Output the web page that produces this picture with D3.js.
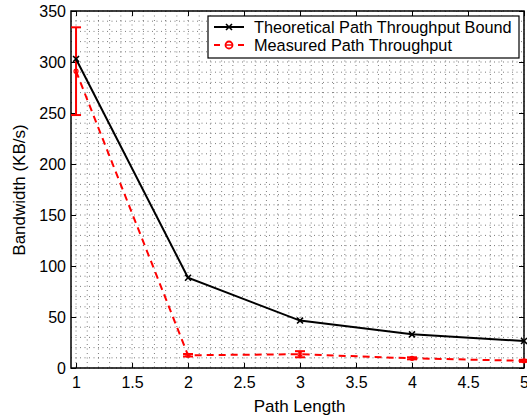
<!DOCTYPE html>
<html><head><meta charset="utf-8">
<script src="https://cdn.jsdelivr.net/npm/d3@7"></script>
<style>body{margin:0;background:#fff}svg{display:block;font-family:"Liberation Sans",Arial,sans-serif}</style>
</head><body><svg id="c" width="527" height="419"></svg>
<script>
const pathLength = [1, 2, 3, 4, 5];
const theoretical = [303, 88.5, 46.5, 33, 26.5];
const measured = [291, 12.5, 13.5, 9.5, 7];
const measuredErr = [43, 1.2, 3, 1, 1];
const xTicks = [1, 1.5, 2, 2.5, 3, 3.5, 4, 4.5, 5];
const yTicks = [0, 50, 100, 150, 200, 250, 300, 350];
const seriesNames = ["Theoretical Path Throughput Bound", "Measured Path Throughput"];

const svg = d3.select("#c");
const L = 71, R = 524, T = 11, B = 368;
const x = d3.scaleLinear().domain([0.955, 5]).range([L, R]);
const y = d3.scaleLinear().domain([0, 350]).range([B, T]);

// grid
const g = svg.append("g");
const xg = d3.range(10, 51).map(d => d / 10);
const yg = d3.range(0, 351, 10);
g.selectAll(".vx").data(xg).join("line")
  .attr("x1", d => x(d)).attr("x2", d => x(d)).attr("y1", T).attr("y2", B)
  .attr("stroke", "#444").attr("stroke-width", 0.7).attr("stroke-dasharray", "1,3.5");
g.selectAll(".hy").data(yg).join("line")
  .attr("x1", L).attr("x2", R).attr("y1", d => y(d)).attr("y2", d => y(d))
  .attr("stroke", "#444").attr("stroke-width", 0.7).attr("stroke-dasharray", "1,3.5");

// axes
const ax = svg.append("g").attr("transform", `translate(0,${B})`)
  .call(d3.axisBottom(x).tickValues(xTicks).tickFormat(d3.format("")).tickSizeInner(-5).tickSizeOuter(0).tickPadding(9));
const ay = svg.append("g").attr("transform", `translate(${L},0)`)
  .call(d3.axisLeft(y).tickValues(yTicks).tickSizeInner(-5).tickSizeOuter(0).tickPadding(5));
const axTop = svg.append("g").attr("transform", `translate(0,${T})`)
  .call(d3.axisTop(x).tickValues(xTicks).tickFormat("").tickSizeInner(-5).tickSizeOuter(0));
const ayR = svg.append("g").attr("transform", `translate(${R},0)`)
  .call(d3.axisRight(y).tickValues(yTicks).tickFormat("").tickSizeInner(-5).tickSizeOuter(0));
[ax, ay, axTop, ayR].forEach(a => {
  a.select(".domain").remove();
  a.selectAll("text").attr("font-size", 16).attr("fill", "#000").attr("font-family", "Liberation Sans, Arial, sans-serif");
  a.selectAll("line").attr("stroke", "#000");
});
svg.append("rect").attr("x", L).attr("y", T).attr("width", R - L).attr("height", B - T)
  .attr("fill", "none").attr("stroke", "#000").attr("stroke-width", 1.5);

// measured series
const lineGen = d3.line().x((d, i) => x(pathLength[i])).y(d => y(d));
svg.append("path").datum(measured).attr("d", lineGen)
  .attr("fill", "none").attr("stroke", "#ff0000").attr("stroke-width", 2).attr("stroke-dasharray", "7,5");
const eb = svg.append("g");
measured.forEach((m, i) => {
  const cx = x(pathLength[i]), y1 = y(m - measuredErr[i]), y2 = y(m + measuredErr[i]);
  const w = 5;
  eb.append("line").attr("x1", cx).attr("x2", cx).attr("y1", y1).attr("y2", y2).attr("stroke", "#f00").attr("stroke-width", 2);
  eb.append("line").attr("x1", cx - w).attr("x2", cx + w).attr("y1", y1).attr("y2", y1).attr("stroke", "#f00").attr("stroke-width", 2);
  eb.append("line").attr("x1", cx - w).attr("x2", cx + w).attr("y1", y2).attr("y2", y2).attr("stroke", "#f00").attr("stroke-width", 2);
  eb.append("circle").attr("cx", cx).attr("cy", y(m)).attr("r", 2).attr("fill", "none").attr("stroke", "#f00").attr("stroke-width", 1.2);
});

// theoretical series
svg.append("path").datum(theoretical).attr("d", lineGen)
  .attr("fill", "none").attr("stroke", "#000").attr("stroke-width", 2);
const star = d3.symbol().type(d3.symbolX).size(25);
svg.selectAll(".tm").data(theoretical).join("path")
  .attr("d", star).attr("transform", (d, i) => `translate(${x(pathLength[i])},${y(d)})`)
  .attr("fill", "none").attr("stroke", "#000").attr("stroke-width", 1.6);

// legend
const lg = svg.append("g");
lg.append("rect").attr("x", 208).attr("y", 16).attr("width", 311).attr("height", 42)
  .attr("fill", "#fff").attr("stroke", "#000").attr("stroke-width", 1.2);
lg.append("line").attr("x1", 214).attr("x2", 244).attr("y1", 27).attr("y2", 27).attr("stroke", "#000").attr("stroke-width", 2);
lg.append("path").attr("d", star).attr("transform", "translate(229,27)").attr("fill", "none").attr("stroke", "#000").attr("stroke-width", 1.6);
lg.append("line").attr("x1", 214).attr("x2", 220).attr("y1", 45).attr("y2", 45).attr("stroke", "#f00").attr("stroke-width", 2);
lg.append("line").attr("x1", 238).attr("x2", 244).attr("y1", 45).attr("y2", 45).attr("stroke", "#f00").attr("stroke-width", 2);
lg.append("circle").attr("cx", 229).attr("cy", 45).attr("r", 3.5).attr("fill", "none").attr("stroke", "#f00").attr("stroke-width", 1.8);
lg.append("line").attr("x1", 226).attr("x2", 232).attr("y1", 45).attr("y2", 45).attr("stroke", "#f00").attr("stroke-width", 1.5);
lg.selectAll(".lt").data(seriesNames).join("text")
  .attr("x", 254).attr("y", (d, i) => 32.5 + i * 18).attr("font-size", 16.3).attr("fill", "#000").text(d => d);

// axis labels
svg.append("text").attr("x", (L + R) / 2 + 2).attr("y", 412).attr("text-anchor", "middle").attr("font-size", 17).text("Path Length");
svg.append("text").attr("transform", "translate(25,190) rotate(-90)").attr("text-anchor", "middle").attr("font-size", 17).text("Bandwidth (KB/s)");
</script></body></html>
